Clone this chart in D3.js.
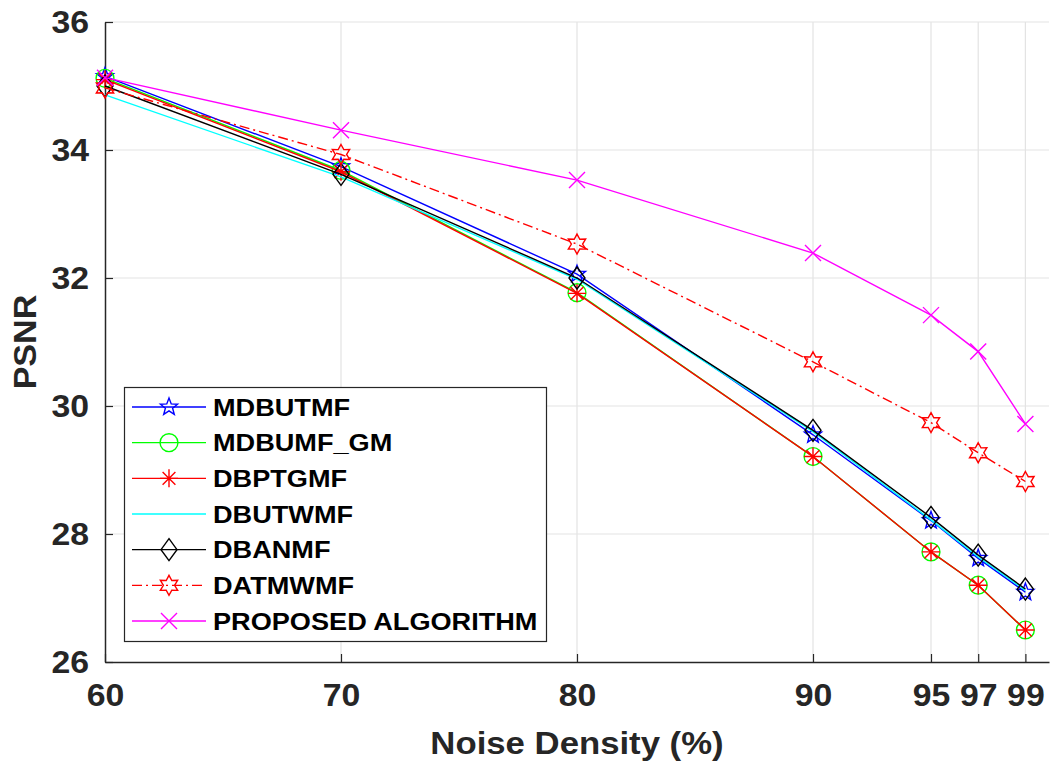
<!DOCTYPE html>
<html>
<head>
<meta charset="utf-8">
<script src="https://cdn.jsdelivr.net/npm/d3@7"></script>
<style>
  body { margin: 0; background: #fff; }
  svg { display: block; font-family: "Liberation Sans", Arial, sans-serif; }
</style>
</head>
<body>
<svg width="1051" height="762"></svg>
<script>
// noise density (%)
var density = [60, 70, 80, 90, 95, 97, 99];

var mdbutmf   = [35.15, 33.74, 32.06, 29.55, 28.21, 27.62, 27.09];
var mdbumfGm  = [35.12, 33.68, 31.77, 29.21, 27.72, 27.20, 26.50];
var dbptgmf   = [35.10, 33.66, 31.76, 29.21, 27.72, 27.20, 26.50];
var dbutwmf   = [34.86, 33.58, 31.98, 29.60, 28.22, 27.64, 27.12];
var dbanmf    = [35.00, 33.62, 32.00, 29.62, 28.26, 27.67, 27.14];
var datmwmf   = [34.97, 33.93, 32.53, 30.69, 29.74, 29.27, 28.82];
var proposed  = [35.13, 34.31, 33.53, 32.39, 31.42, 30.85, 29.72];

var xTicks = [60, 70, 80, 90, 95, 97, 99];
var yTicks = [26, 28, 30, 32, 34, 36];

var series = [
  {name: "MDBUTMF", values: mdbutmf, color: "#0000ff", marker: "star"},
  {name: "MDBUMF_GM", values: mdbumfGm, color: "#00ff00", marker: "circle"},
  {name: "DBPTGMF", values: dbptgmf, color: "#ff0000", marker: "asterisk"},
  {name: "DBUTWMF", values: dbutwmf, color: "#00ffff", marker: "none"},
  {name: "DBANMF", values: dbanmf, color: "#000000", marker: "diamond"},
  {name: "DATMWMF", values: datmwmf, color: "#ff0000", marker: "hexagram", dash: "10,4,2,4"},
  {name: "PROPOSED ALGORITHM", values: proposed, color: "#ff00ff", marker: "x"}
];

var svg = d3.select("svg");
var mLeft = 105, mRight = 1049, mTop = 22, mBottom = 662;

var x = d3.scaleLinear().domain([60, 100]).range([mLeft, mRight]);
var y = d3.scaleLinear().domain([26, 36]).range([mBottom, mTop]);

// stretch bold text a little, the original font is wider
function widen(sel, k) {
  sel.each(function() {
    var w = this.getComputedTextLength();
    d3.select(this).attr("textLength", w * k).attr("lengthAdjust", "spacingAndGlyphs");
  });
}

// grid
var grid = svg.append("g").attr("stroke", "#e3e3e3").attr("stroke-width", 1.2);
grid.selectAll(".gx").data(xTicks.slice(1)).enter().append("line")
    .attr("x1", function(d) { return x(d); }).attr("x2", function(d) { return x(d); })
    .attr("y1", mTop).attr("y2", mBottom);
grid.selectAll(".gy").data(yTicks.slice(1)).enter().append("line")
    .attr("x1", mLeft).attr("x2", mRight)
    .attr("y1", function(d) { return y(d); }).attr("y2", function(d) { return y(d); });

// axes
var xAxis = d3.axisBottom(x).tickValues(xTicks).tickSizeInner(-8).tickSizeOuter(0).tickPadding(22);
var yAxis = d3.axisLeft(y).tickValues(yTicks).tickSizeInner(-8).tickSizeOuter(0).tickPadding(16);

var xg = svg.append("g").attr("transform", "translate(0," + mBottom + ")").call(xAxis);
var yg = svg.append("g").attr("transform", "translate(" + mLeft + ",0)").call(yAxis);

[xg, yg].forEach(function(g) {
  g.select(".domain").attr("stroke", "#262626").attr("stroke-width", 1.5);
  g.selectAll(".tick line").attr("stroke", "#262626").attr("stroke-width", 1.2);
  g.selectAll("text").attr("fill", "#262626").attr("font-size", 31).attr("font-weight", "bold")
    .attr("font-family", "Liberation Sans, Arial, sans-serif");
  widen(g.selectAll("text"), 1.09);
});
xg.selectAll("text").attr("dy", "0.71em");
yg.selectAll("text").attr("dy", "0.35em");

svg.append("text")
    .attr("x", (mLeft + mRight) / 2).attr("y", 754)
    .attr("text-anchor", "middle")
    .attr("font-size", 31).attr("font-weight", "bold").attr("fill", "#262626")
    .text("Noise Density (%)")
    .call(widen, 1.12);

svg.append("text")
    .attr("transform", "translate(36," + (mTop + mBottom) / 2 + ") rotate(-90)")
    .attr("text-anchor", "middle")
    .attr("font-size", 31).attr("font-weight", "bold").attr("fill", "#262626")
    .text("PSNR")
    .call(widen, 1.1);

// marker paths
function starPath(n, ro, ri) {
  var p = [];
  for (var i = 0; i < 2 * n; i++) {
    var r = i % 2 ? ri : ro;
    var a = -Math.PI / 2 + i * Math.PI / n;
    p.push([r * Math.cos(a), r * Math.sin(a)]);
  }
  return "M" + p.join("L") + "Z";
}
function markerPath(type) {
  if (type === "star") return starPath(5, 9, 3.8);
  if (type === "hexagram") return starPath(6, 10, 5.6);
  if (type === "circle") return d3.symbol(d3.symbolCircle, 250)();
  if (type === "diamond") return "M0,-11L8,0L0,11L-8,0Z";
  if (type === "x") return "M-8,-8L8,8M-8,8L8,-8";
  if (type === "asterisk") return "M0,-9V9M-9,0H9M-6.4,-6.4L6.4,6.4M-6.4,6.4L6.4,-6.4";
  return null;
}

var line = d3.line()
    .x(function(d, i) { return x(density[i]); })
    .y(function(d) { return y(d); });

series.forEach(function(s) {
  var g = svg.append("g");
  g.append("path")
      .attr("d", line(s.values))
      .attr("fill", "none")
      .attr("stroke", s.color)
      .attr("stroke-width", 1.4)
      .attr("stroke-dasharray", s.dash || null);
  var mp = markerPath(s.marker);
  if (mp) {
    g.selectAll(".m").data(s.values).enter().append("path")
        .attr("transform", function(d, i) { return "translate(" + x(density[i]) + "," + y(d) + ")"; })
        .attr("d", mp)
        .attr("fill", "none")
        .attr("stroke", s.color)
        .attr("stroke-width", 1.4);
  }
});

// legend
var lg = svg.append("g");
lg.append("rect")
    .attr("x", 124.5).attr("y", 387.5).attr("width", 422).attr("height", 254)
    .attr("fill", "#fff").attr("stroke", "#262626").attr("stroke-width", 1.2);

var rowY = d3.scaleLinear().domain([0, series.length - 1]).range([407, 621]);
series.forEach(function(s, i) {
  var yy = rowY(i);
  lg.append("line")
      .attr("x1", 132).attr("x2", 206).attr("y1", yy).attr("y2", yy)
      .attr("stroke", s.color).attr("stroke-width", 1.4)
      .attr("stroke-dasharray", s.dash || null);
  var mp = markerPath(s.marker);
  if (mp) {
    lg.append("path")
        .attr("transform", "translate(169," + yy + ")")
        .attr("d", mp).attr("fill", "none")
        .attr("stroke", s.color).attr("stroke-width", 1.4);
  }
  lg.append("text")
      .attr("x", 213).attr("y", yy).attr("dy", "0.36em")
      .attr("font-size", 24).attr("font-weight", "bold").attr("fill", "#000")
      .text(s.name)
      .call(widen, 1.13);
});
</script>
</body>
</html>
